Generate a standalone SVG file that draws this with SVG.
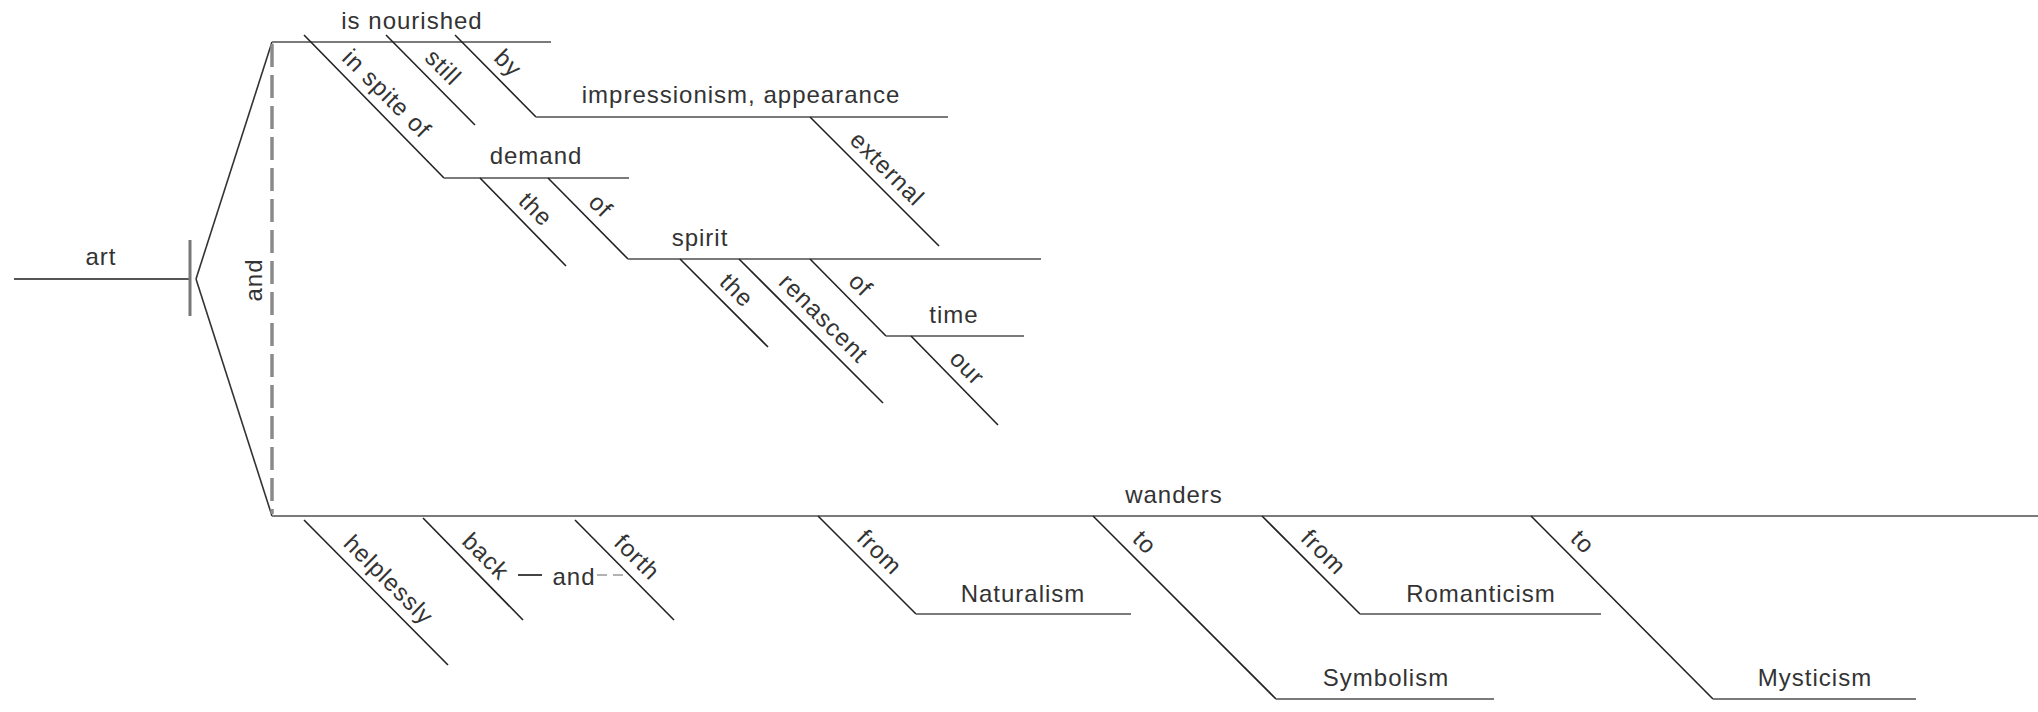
<svg xmlns="http://www.w3.org/2000/svg" width="2038" height="712" viewBox="0 0 2038 712">
<style>
text{font-family:"Liberation Sans",Arial,sans-serif;font-size:24px;letter-spacing:1px;fill:#333;text-anchor:middle}
.h{stroke:#7a7a7a;stroke-width:2;fill:none}
.d{stroke:#222;stroke-width:1.6;fill:none}
.f{stroke:#333;stroke-width:1.6;fill:none}
.dash{stroke:#8a8a8a;stroke-width:3.5;stroke-dasharray:23 8;fill:none}
</style>
<rect width="2038" height="712" fill="#fff"/>
<g id="connectors">
<line class="f" x1="196" y1="279" x2="272" y2="42"/>
<line class="f" x1="196" y1="279" x2="272" y2="516"/>
<line class="dash" x1="272" y1="44" x2="272" y2="514"/>
<line stroke="#444" stroke-width="2" x1="518" y1="575" x2="542" y2="575"/>
<line stroke="#999" stroke-width="1.5" stroke-dasharray="10 6" x1="597" y1="575" x2="625" y2="575"/>
</g>
<g id="art">
<line stroke="#555" stroke-width="2.2" x1="14" y1="279" x2="190" y2="279"/>
<line stroke="#777" stroke-width="3" x1="190" y1="240" x2="190" y2="316"/>
<text x="101" y="265">art</text>
</g>
<g id="and1"><text transform="translate(262,280) rotate(-90)">and</text></g>
<g id="is-nourished">
<line class="h" x1="272" y1="42" x2="551" y2="42"/>
<text x="412" y="29">is nourished</text>
</g>
<g id="in-spite-of">
<line class="d" x1="304" y1="35" x2="444" y2="178"/>
<text transform="translate(381,99.5) rotate(45)">in spite of</text>
</g>
<g id="still">
<line class="d" x1="386" y1="35" x2="475" y2="125"/>
<text transform="translate(437.5,73) rotate(45)">still</text>
</g>
<g id="by">
<line class="d" x1="455" y1="35" x2="536" y2="117"/>
<text transform="translate(502.5,69) rotate(45)">by</text>
</g>
<g id="impressionism">
<line class="h" x1="536" y1="117" x2="948" y2="117"/>
<text x="741" y="103">impressionism, appearance</text>
</g>
<g id="external">
<line class="d" x1="810" y1="117" x2="939" y2="246"/>
<text transform="translate(881.5,174.5) rotate(45)">external</text>
</g>
<g id="demand">
<line class="h" x1="444" y1="178" x2="629" y2="178"/>
<text x="536" y="164">demand</text>
</g>
<g id="the1">
<line class="d" x1="480" y1="178" x2="566" y2="266"/>
<text transform="translate(530,215) rotate(45)">the</text>
</g>
<g id="of1">
<line class="d" x1="548" y1="178" x2="628" y2="259"/>
<text transform="translate(595,211.5) rotate(45)">of</text>
</g>
<g id="spirit">
<line class="h" x1="628" y1="259" x2="1041" y2="259"/>
<text x="700" y="246">spirit</text>
</g>
<g id="the2">
<line class="d" x1="680" y1="259" x2="768" y2="347"/>
<text transform="translate(731,296) rotate(45)">the</text>
</g>
<g id="renascent">
<line class="d" x1="739" y1="259" x2="883" y2="403"/>
<text transform="translate(818,324) rotate(45)">renascent</text>
</g>
<g id="of2">
<line class="d" x1="810" y1="259" x2="886" y2="336"/>
<text transform="translate(855,290.5) rotate(45)">of</text>
</g>
<g id="time">
<line class="h" x1="886" y1="336" x2="1024" y2="336"/>
<text x="954" y="323">time</text>
</g>
<g id="our">
<line class="d" x1="911" y1="336" x2="998" y2="425"/>
<text transform="translate(961.5,373.5) rotate(45)">our</text>
</g>
<g id="wanders">
<line class="h" x1="272" y1="516" x2="2038" y2="516"/>
<text x="1174" y="503">wanders</text>
</g>
<g id="helplessly">
<line class="d" x1="304" y1="520" x2="448" y2="665"/>
<text transform="translate(383,585.5) rotate(45)">helplessly</text>
</g>
<g id="back">
<line class="d" x1="423" y1="518" x2="523" y2="620"/>
<text transform="translate(480,562) rotate(45)">back</text>
</g>
<g id="and2"><text x="574" y="585">and</text></g>
<g id="forth">
<line class="d" x1="575" y1="520" x2="674" y2="620"/>
<text transform="translate(631.5,563) rotate(45)">forth</text>
</g>
<g id="from1">
<line class="d" x1="818" y1="516" x2="916" y2="614"/>
<text transform="translate(874,558) rotate(45)">from</text>
</g>
<g id="naturalism">
<line class="h" x1="916" y1="614" x2="1131" y2="614"/>
<text x="1023" y="602">Naturalism</text>
</g>
<g id="to1">
<line class="d" x1="1093" y1="516" x2="1276" y2="699"/>
<text transform="translate(1139,548) rotate(45)">to</text>
</g>
<g id="symbolism">
<line class="h" x1="1276" y1="699" x2="1494" y2="699"/>
<text x="1386" y="686">Symbolism</text>
</g>
<g id="from2">
<line class="d" x1="1262" y1="516" x2="1360" y2="614"/>
<text transform="translate(1318,558) rotate(45)">from</text>
</g>
<g id="romanticism">
<line class="h" x1="1360" y1="614" x2="1601" y2="614"/>
<text x="1481" y="602">Romanticism</text>
</g>
<g id="to2">
<line class="d" x1="1531" y1="516" x2="1713" y2="699"/>
<text transform="translate(1577,547.5) rotate(45)">to</text>
</g>
<g id="mysticism">
<line class="h" x1="1713" y1="699" x2="1916" y2="699"/>
<text x="1815" y="686">Mysticism</text>
</g>
</svg>
